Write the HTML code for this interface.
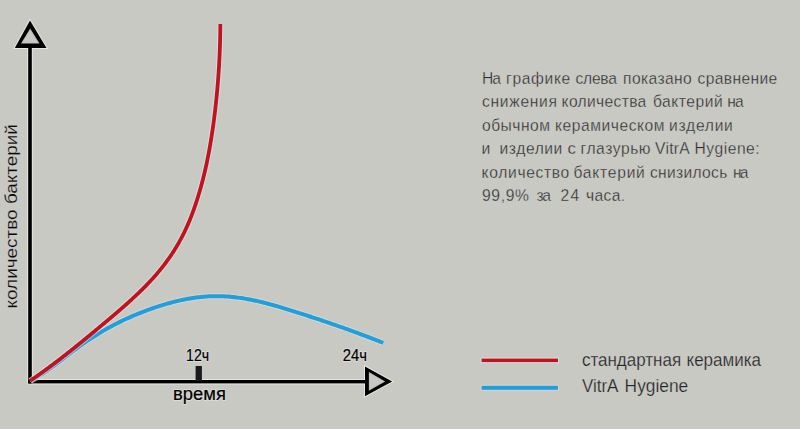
<!DOCTYPE html>
<html><head><meta charset="utf-8">
<style>
html,body{margin:0;padding:0;background:#c9c9c4;width:800px;height:429px;overflow:hidden}
svg{position:absolute;left:0;top:0;display:block}
text{font-family:"Liberation Sans",sans-serif}
</style></head><body>
<svg width="800" height="429" viewBox="0 0 800 429">
<rect width="800" height="429" fill="#c9c9c4"/>
<g fill="none" stroke="#eeeeea" stroke-width="5.6" opacity="0.8">
<path d="M30 46 V383.4 M28.2 381.7 H366"/>
<polygon points="30,20.5 14.8,48 46.5,48" stroke-width="2" fill="#eeeeea"/>
<polygon points="365,366.5 392.2,381.4 365,396.3" stroke-width="2" fill="#eeeeea"/>
</g>
<rect x="28.2" y="46" width="3.6" height="337.5" fill="#000"/>
<rect x="28.2" y="380" width="338" height="3.4" fill="#000"/>
<polygon points="30,20.5 14.8,48 46.5,48" fill="#000"/>
<polygon points="30.2,28.5 21,43.5 39.5,43.5" fill="#eeeeea" opacity="0.8"/>
<polygon points="30.2,30.6 22.7,42.5 37.8,42.5" fill="#c9c9c4"/>
<polygon points="365,366.5 392.2,381.4 365,396.3" fill="#000"/>
<polygon points="368.9,372 385.2,381.4 368.9,390.8" fill="#eeeeea" opacity="0.8"/>
<polygon points="369.9,373.8 383.2,381.4 369.9,389" fill="#c9c9c4"/>
<rect x="195.6" y="366" width="6.3" height="15" fill="#1a1a1a"/>
<path d="M30.30 380.89 L31.91 380.06 L33.52 379.19 L35.13 378.28 L36.75 377.34 L38.36 376.37 L39.97 375.37 L41.58 374.34 L43.19 373.28 L44.80 372.19 L46.41 371.09 L48.03 369.96 L49.64 368.81 L51.25 367.65 L52.86 366.46 L54.47 365.27 L56.08 364.06 L57.69 362.84 L59.31 361.61 L60.92 360.38 L62.53 359.14 L64.14 357.90 L65.75 356.66 L67.36 355.42 L68.97 354.18 L70.59 352.94 L72.20 351.71 L73.81 350.49 L75.42 349.28 L77.03 348.09 L78.64 346.90 L80.25 345.73 L81.87 344.58 L83.48 343.44 L85.09 342.32 L86.70 341.22 L88.31 340.13 L89.92 339.06 L91.53 338.01 L93.15 336.97 L94.76 335.95 L96.37 334.94 L97.98 333.95 L99.59 332.97 L101.20 332.01 L102.81 331.06 L104.43 330.13 L106.04 329.22 L107.65 328.31 L109.26 327.42 L110.87 326.55 L112.48 325.69 L114.09 324.84 L115.71 324.01 L117.32 323.19 L118.93 322.38 L120.54 321.59 L122.15 320.81 L123.76 320.04 L125.37 319.29 L126.98 318.55 L128.60 317.82 L130.21 317.10 L131.82 316.39 L133.43 315.70 L135.04 315.02 L136.65 314.35 L138.26 313.69 L139.88 313.04 L141.49 312.40 L143.10 311.78 L144.71 311.16 L146.32 310.56 L147.93 309.96 L149.54 309.38 L151.16 308.81 L152.77 308.24 L154.38 307.69 L155.99 307.15 L157.60 306.61 L159.21 306.09 L160.82 305.58 L162.44 305.08 L164.05 304.60 L165.66 304.12 L167.27 303.66 L168.88 303.21 L170.49 302.77 L172.10 302.34 L173.72 301.92 L175.33 301.52 L176.94 301.13 L178.55 300.76 L180.16 300.40 L181.77 300.05 L183.38 299.71 L185.00 299.39 L186.61 299.08 L188.22 298.79 L189.83 298.51 L191.44 298.25 L193.05 298.00 L194.66 297.76 L196.28 297.54 L197.89 297.34 L199.50 297.15 L201.11 296.98 L202.72 296.82 L204.33 296.68 L205.94 296.56 L207.56 296.45 L209.17 296.36 L210.78 296.28 L212.39 296.22 L214.00 296.18 L215.61 296.16 L217.22 296.15 L218.84 296.17 L220.45 296.20 L222.06 296.24 L223.67 296.31 L225.28 296.39 L226.89 296.49 L228.50 296.61 L230.12 296.74 L231.73 296.89 L233.34 297.06 L234.95 297.24 L236.56 297.43 L238.17 297.64 L239.78 297.86 L241.40 298.10 L243.01 298.35 L244.62 298.61 L246.23 298.89 L247.84 299.18 L249.45 299.48 L251.06 299.80 L252.68 300.12 L254.29 300.46 L255.90 300.81 L257.51 301.17 L259.12 301.53 L260.73 301.91 L262.34 302.30 L263.96 302.70 L265.57 303.10 L267.18 303.52 L268.79 303.94 L270.40 304.37 L272.01 304.81 L273.62 305.26 L275.24 305.71 L276.85 306.17 L278.46 306.64 L280.07 307.11 L281.68 307.58 L283.29 308.07 L284.90 308.55 L286.52 309.05 L288.13 309.54 L289.74 310.04 L291.35 310.54 L292.96 311.05 L294.57 311.56 L296.18 312.07 L297.79 312.59 L299.41 313.10 L301.02 313.62 L302.63 314.14 L304.24 314.66 L305.85 315.18 L307.46 315.71 L309.07 316.23 L310.69 316.76 L312.30 317.29 L313.91 317.82 L315.52 318.35 L317.13 318.89 L318.74 319.42 L320.35 319.96 L321.97 320.50 L323.58 321.04 L325.19 321.59 L326.80 322.13 L328.41 322.68 L330.02 323.23 L331.63 323.78 L333.25 324.34 L334.86 324.90 L336.47 325.46 L338.08 326.02 L339.69 326.58 L341.30 327.15 L342.91 327.72 L344.53 328.29 L346.14 328.87 L347.75 329.44 L349.36 330.02 L350.97 330.61 L352.58 331.19 L354.19 331.78 L355.81 332.37 L357.42 332.97 L359.03 333.56 L360.64 334.16 L362.25 334.77 L363.86 335.37 L365.47 335.98 L367.09 336.60 L368.70 337.21 L370.31 337.83 L371.92 338.45 L373.53 339.08 L375.14 339.71 L376.75 340.34 L378.37 340.98 L379.98 341.62 L381.59 342.26 L383.20 342.91" fill="none" stroke="#f0d8c4" stroke-width="6.0" stroke-linejoin="round" opacity="0.55"/>
<path d="M30.30 380.89 L31.91 380.06 L33.52 379.19 L35.13 378.28 L36.75 377.34 L38.36 376.37 L39.97 375.37 L41.58 374.34 L43.19 373.28 L44.80 372.19 L46.41 371.09 L48.03 369.96 L49.64 368.81 L51.25 367.65 L52.86 366.46 L54.47 365.27 L56.08 364.06 L57.69 362.84 L59.31 361.61 L60.92 360.38 L62.53 359.14 L64.14 357.90 L65.75 356.66 L67.36 355.42 L68.97 354.18 L70.59 352.94 L72.20 351.71 L73.81 350.49 L75.42 349.28 L77.03 348.09 L78.64 346.90 L80.25 345.73 L81.87 344.58 L83.48 343.44 L85.09 342.32 L86.70 341.22 L88.31 340.13 L89.92 339.06 L91.53 338.01 L93.15 336.97 L94.76 335.95 L96.37 334.94 L97.98 333.95 L99.59 332.97 L101.20 332.01 L102.81 331.06 L104.43 330.13 L106.04 329.22 L107.65 328.31 L109.26 327.42 L110.87 326.55 L112.48 325.69 L114.09 324.84 L115.71 324.01 L117.32 323.19 L118.93 322.38 L120.54 321.59 L122.15 320.81 L123.76 320.04 L125.37 319.29 L126.98 318.55 L128.60 317.82 L130.21 317.10 L131.82 316.39 L133.43 315.70 L135.04 315.02 L136.65 314.35 L138.26 313.69 L139.88 313.04 L141.49 312.40 L143.10 311.78 L144.71 311.16 L146.32 310.56 L147.93 309.96 L149.54 309.38 L151.16 308.81 L152.77 308.24 L154.38 307.69 L155.99 307.15 L157.60 306.61 L159.21 306.09 L160.82 305.58 L162.44 305.08 L164.05 304.60 L165.66 304.12 L167.27 303.66 L168.88 303.21 L170.49 302.77 L172.10 302.34 L173.72 301.92 L175.33 301.52 L176.94 301.13 L178.55 300.76 L180.16 300.40 L181.77 300.05 L183.38 299.71 L185.00 299.39 L186.61 299.08 L188.22 298.79 L189.83 298.51 L191.44 298.25 L193.05 298.00 L194.66 297.76 L196.28 297.54 L197.89 297.34 L199.50 297.15 L201.11 296.98 L202.72 296.82 L204.33 296.68 L205.94 296.56 L207.56 296.45 L209.17 296.36 L210.78 296.28 L212.39 296.22 L214.00 296.18 L215.61 296.16 L217.22 296.15 L218.84 296.17 L220.45 296.20 L222.06 296.24 L223.67 296.31 L225.28 296.39 L226.89 296.49 L228.50 296.61 L230.12 296.74 L231.73 296.89 L233.34 297.06 L234.95 297.24 L236.56 297.43 L238.17 297.64 L239.78 297.86 L241.40 298.10 L243.01 298.35 L244.62 298.61 L246.23 298.89 L247.84 299.18 L249.45 299.48 L251.06 299.80 L252.68 300.12 L254.29 300.46 L255.90 300.81 L257.51 301.17 L259.12 301.53 L260.73 301.91 L262.34 302.30 L263.96 302.70 L265.57 303.10 L267.18 303.52 L268.79 303.94 L270.40 304.37 L272.01 304.81 L273.62 305.26 L275.24 305.71 L276.85 306.17 L278.46 306.64 L280.07 307.11 L281.68 307.58 L283.29 308.07 L284.90 308.55 L286.52 309.05 L288.13 309.54 L289.74 310.04 L291.35 310.54 L292.96 311.05 L294.57 311.56 L296.18 312.07 L297.79 312.59 L299.41 313.10 L301.02 313.62 L302.63 314.14 L304.24 314.66 L305.85 315.18 L307.46 315.71 L309.07 316.23 L310.69 316.76 L312.30 317.29 L313.91 317.82 L315.52 318.35 L317.13 318.89 L318.74 319.42 L320.35 319.96 L321.97 320.50 L323.58 321.04 L325.19 321.59 L326.80 322.13 L328.41 322.68 L330.02 323.23 L331.63 323.78 L333.25 324.34 L334.86 324.90 L336.47 325.46 L338.08 326.02 L339.69 326.58 L341.30 327.15 L342.91 327.72 L344.53 328.29 L346.14 328.87 L347.75 329.44 L349.36 330.02 L350.97 330.61 L352.58 331.19 L354.19 331.78 L355.81 332.37 L357.42 332.97 L359.03 333.56 L360.64 334.16 L362.25 334.77 L363.86 335.37 L365.47 335.98 L367.09 336.60 L368.70 337.21 L370.31 337.83 L371.92 338.45 L373.53 339.08 L375.14 339.71 L376.75 340.34 L378.37 340.98 L379.98 341.62 L381.59 342.26 L383.20 342.91" fill="none" stroke="#1d9fe0" stroke-width="4.0" stroke-linejoin="round"/>
<path d="M30.18 380.80 L32.56 379.17 L34.91 377.54 L37.24 375.91 L39.54 374.28 L41.82 372.65 L44.08 371.02 L46.32 369.40 L48.54 367.77 L50.74 366.14 L52.92 364.51 L55.08 362.88 L57.23 361.25 L59.35 359.62 L61.47 357.99 L63.57 356.36 L65.65 354.73 L67.72 353.10 L69.78 351.47 L71.83 349.84 L73.86 348.22 L75.89 346.59 L77.90 344.96 L79.91 343.33 L81.91 341.70 L83.90 340.07 L85.89 338.44 L87.87 336.81 L89.84 335.18 L91.81 333.55 L93.78 331.92 L95.74 330.29 L97.71 328.66 L99.67 327.04 L101.63 325.41 L103.58 323.78 L105.53 322.15 L107.47 320.52 L109.41 318.89 L111.34 317.26 L113.25 315.63 L115.17 314.00 L117.07 312.37 L118.95 310.74 L120.83 309.11 L122.70 307.48 L124.55 305.86 L126.38 304.23 L128.20 302.60 L130.01 300.97 L131.79 299.34 L133.56 297.71 L135.31 296.08 L137.04 294.45 L138.75 292.82 L140.43 291.19 L142.10 289.56 L143.74 287.93 L145.36 286.31 L146.95 284.68 L148.51 283.05 L150.05 281.42 L151.56 279.79 L153.04 278.16 L154.50 276.53 L155.92 274.90 L157.32 273.27 L158.69 271.64 L160.04 270.01 L161.35 268.38 L162.64 266.75 L163.91 265.13 L165.15 263.50 L166.36 261.87 L167.55 260.24 L168.71 258.61 L169.85 256.98 L170.96 255.35 L172.05 253.72 L173.12 252.09 L174.16 250.46 L175.18 248.83 L176.17 247.20 L177.15 245.57 L178.10 243.95 L179.03 242.32 L179.94 240.69 L180.83 239.06 L181.69 237.43 L182.54 235.80 L183.36 234.17 L184.17 232.54 L184.96 230.91 L185.73 229.28 L186.48 227.65 L187.21 226.02 L187.93 224.39 L188.63 222.77 L189.32 221.14 L189.98 219.51 L190.64 217.88 L191.28 216.25 L191.91 214.62 L192.52 212.99 L193.12 211.36 L193.71 209.73 L194.28 208.10 L194.85 206.47 L195.40 204.84 L195.95 203.21 L196.48 201.59 L197.00 199.96 L197.52 198.33 L198.03 196.70 L198.52 195.07 L199.01 193.44 L199.49 191.81 L199.97 190.18 L200.43 188.55 L200.89 186.92 L201.34 185.29 L201.78 183.66 L202.21 182.03 L202.63 180.41 L203.05 178.78 L203.46 177.15 L203.86 175.52 L204.26 173.89 L204.65 172.26 L205.03 170.63 L205.40 169.00 L205.77 167.37 L206.13 165.74 L206.48 164.11 L206.83 162.48 L207.17 160.85 L207.51 159.23 L207.84 157.60 L208.16 155.97 L208.47 154.34 L208.79 152.71 L209.09 151.08 L209.39 149.45 L209.68 147.82 L209.97 146.19 L210.25 144.56 L210.53 142.93 L210.80 141.30 L211.07 139.67 L211.33 138.05 L211.59 136.42 L211.84 134.79 L212.09 133.16 L212.33 131.53 L212.57 129.90 L212.81 128.27 L213.04 126.64 L213.27 125.01 L213.49 123.38 L213.71 121.75 L213.92 120.12 L214.13 118.49 L214.34 116.87 L214.54 115.24 L214.74 113.61 L214.94 111.98 L215.13 110.35 L215.32 108.72 L215.51 107.09 L215.69 105.46 L215.87 103.83 L216.05 102.20 L216.22 100.57 L216.39 98.94 L216.55 97.32 L216.71 95.69 L216.87 94.06 L217.02 92.43 L217.17 90.80 L217.32 89.17 L217.46 87.54 L217.60 85.91 L217.74 84.28 L217.87 82.65 L218.00 81.02 L218.12 79.39 L218.25 77.76 L218.36 76.14 L218.48 74.51 L218.59 72.88 L218.70 71.25 L218.80 69.62 L218.90 67.99 L219.00 66.36 L219.10 64.73 L219.19 63.10 L219.27 61.47 L219.36 59.84 L219.44 58.21 L219.52 56.58 L219.59 54.96 L219.66 53.33 L219.73 51.70 L219.79 50.07 L219.85 48.44 L219.91 46.81 L219.96 45.18 L220.01 43.55 L220.06 41.92 L220.10 40.29 L220.14 38.66 L220.18 37.03 L220.21 35.40 L220.24 33.78 L220.27 32.15 L220.29 30.52 L220.31 28.89 L220.33 27.26 L220.34 25.63 L220.35 24.00" fill="none" stroke="#d8f0ec" stroke-width="5.8" stroke-linejoin="round" opacity="0.6"/>
<path d="M30.18 380.80 L32.56 379.17 L34.91 377.54 L37.24 375.91 L39.54 374.28 L41.82 372.65 L44.08 371.02 L46.32 369.40 L48.54 367.77 L50.74 366.14 L52.92 364.51 L55.08 362.88 L57.23 361.25 L59.35 359.62 L61.47 357.99 L63.57 356.36 L65.65 354.73 L67.72 353.10 L69.78 351.47 L71.83 349.84 L73.86 348.22 L75.89 346.59 L77.90 344.96 L79.91 343.33 L81.91 341.70 L83.90 340.07 L85.89 338.44 L87.87 336.81 L89.84 335.18 L91.81 333.55 L93.78 331.92 L95.74 330.29 L97.71 328.66 L99.67 327.04 L101.63 325.41 L103.58 323.78 L105.53 322.15 L107.47 320.52 L109.41 318.89 L111.34 317.26 L113.25 315.63 L115.17 314.00 L117.07 312.37 L118.95 310.74 L120.83 309.11 L122.70 307.48 L124.55 305.86 L126.38 304.23 L128.20 302.60 L130.01 300.97 L131.79 299.34 L133.56 297.71 L135.31 296.08 L137.04 294.45 L138.75 292.82 L140.43 291.19 L142.10 289.56 L143.74 287.93 L145.36 286.31 L146.95 284.68 L148.51 283.05 L150.05 281.42 L151.56 279.79 L153.04 278.16 L154.50 276.53 L155.92 274.90 L157.32 273.27 L158.69 271.64 L160.04 270.01 L161.35 268.38 L162.64 266.75 L163.91 265.13 L165.15 263.50 L166.36 261.87 L167.55 260.24 L168.71 258.61 L169.85 256.98 L170.96 255.35 L172.05 253.72 L173.12 252.09 L174.16 250.46 L175.18 248.83 L176.17 247.20 L177.15 245.57 L178.10 243.95 L179.03 242.32 L179.94 240.69 L180.83 239.06 L181.69 237.43 L182.54 235.80 L183.36 234.17 L184.17 232.54 L184.96 230.91 L185.73 229.28 L186.48 227.65 L187.21 226.02 L187.93 224.39 L188.63 222.77 L189.32 221.14 L189.98 219.51 L190.64 217.88 L191.28 216.25 L191.91 214.62 L192.52 212.99 L193.12 211.36 L193.71 209.73 L194.28 208.10 L194.85 206.47 L195.40 204.84 L195.95 203.21 L196.48 201.59 L197.00 199.96 L197.52 198.33 L198.03 196.70 L198.52 195.07 L199.01 193.44 L199.49 191.81 L199.97 190.18 L200.43 188.55 L200.89 186.92 L201.34 185.29 L201.78 183.66 L202.21 182.03 L202.63 180.41 L203.05 178.78 L203.46 177.15 L203.86 175.52 L204.26 173.89 L204.65 172.26 L205.03 170.63 L205.40 169.00 L205.77 167.37 L206.13 165.74 L206.48 164.11 L206.83 162.48 L207.17 160.85 L207.51 159.23 L207.84 157.60 L208.16 155.97 L208.47 154.34 L208.79 152.71 L209.09 151.08 L209.39 149.45 L209.68 147.82 L209.97 146.19 L210.25 144.56 L210.53 142.93 L210.80 141.30 L211.07 139.67 L211.33 138.05 L211.59 136.42 L211.84 134.79 L212.09 133.16 L212.33 131.53 L212.57 129.90 L212.81 128.27 L213.04 126.64 L213.27 125.01 L213.49 123.38 L213.71 121.75 L213.92 120.12 L214.13 118.49 L214.34 116.87 L214.54 115.24 L214.74 113.61 L214.94 111.98 L215.13 110.35 L215.32 108.72 L215.51 107.09 L215.69 105.46 L215.87 103.83 L216.05 102.20 L216.22 100.57 L216.39 98.94 L216.55 97.32 L216.71 95.69 L216.87 94.06 L217.02 92.43 L217.17 90.80 L217.32 89.17 L217.46 87.54 L217.60 85.91 L217.74 84.28 L217.87 82.65 L218.00 81.02 L218.12 79.39 L218.25 77.76 L218.36 76.14 L218.48 74.51 L218.59 72.88 L218.70 71.25 L218.80 69.62 L218.90 67.99 L219.00 66.36 L219.10 64.73 L219.19 63.10 L219.27 61.47 L219.36 59.84 L219.44 58.21 L219.52 56.58 L219.59 54.96 L219.66 53.33 L219.73 51.70 L219.79 50.07 L219.85 48.44 L219.91 46.81 L219.96 45.18 L220.01 43.55 L220.06 41.92 L220.10 40.29 L220.14 38.66 L220.18 37.03 L220.21 35.40 L220.24 33.78 L220.27 32.15 L220.29 30.52 L220.31 28.89 L220.33 27.26 L220.34 25.63 L220.35 24.00" fill="none" stroke="#c2111f" stroke-width="3.8" stroke-linejoin="round"/>
<text transform="translate(482.07,84) scale(0.93,1)" x="0" y="0" font-size="16.8" fill="#2c2c2c" textLength="20.23" lengthAdjust="spacing" stroke="#c9c9c4" stroke-width="0.32">На</text>
<text transform="translate(506.07,84) scale(0.93,1)" x="0" y="0" font-size="16.8" fill="#2c2c2c" textLength="69.07" lengthAdjust="spacing" stroke="#c9c9c4" stroke-width="0.32">графике</text>
<text transform="translate(575.50,84) scale(0.93,1)" x="0" y="0" font-size="16.8" fill="#2c2c2c" textLength="44.49" lengthAdjust="spacing" stroke="#c9c9c4" stroke-width="0.32">слева</text>
<text transform="translate(623.07,84) scale(0.93,1)" x="0" y="0" font-size="16.8" fill="#2c2c2c" textLength="73.91" lengthAdjust="spacing" stroke="#c9c9c4" stroke-width="0.32">показано</text>
<text transform="translate(697.50,84) scale(0.93,1)" x="0" y="0" font-size="16.8" fill="#2c2c2c" textLength="85.82" lengthAdjust="spacing" stroke="#c9c9c4" stroke-width="0.32">сравнение</text>
<text transform="translate(482.00,107.4) scale(0.93,1)" x="0" y="0" font-size="16.8" fill="#2c2c2c" textLength="80.66" lengthAdjust="spacing" stroke="#c9c9c4" stroke-width="0.32">снижения</text>
<text transform="translate(561.57,107.4) scale(0.93,1)" x="0" y="0" font-size="16.8" fill="#2c2c2c" textLength="91.09" lengthAdjust="spacing" stroke="#c9c9c4" stroke-width="0.32">количества</text>
<text transform="translate(652.90,107.4) scale(0.93,1)" x="0" y="0" font-size="16.8" fill="#2c2c2c" textLength="75.21" lengthAdjust="spacing" stroke="#c9c9c4" stroke-width="0.32">бактерий</text>
<text transform="translate(727.17,107.4) scale(0.93,1)" x="0" y="0" font-size="16.8" fill="#2c2c2c" textLength="17.86" lengthAdjust="spacing" stroke="#c9c9c4" stroke-width="0.32">на</text>
<text transform="translate(482.00,130.7) scale(0.93,1)" x="0" y="0" font-size="16.8" fill="#2c2c2c" textLength="73.12" lengthAdjust="spacing" stroke="#c9c9c4" stroke-width="0.32">обычном</text>
<text transform="translate(555.07,130.7) scale(0.93,1)" x="0" y="0" font-size="16.8" fill="#2c2c2c" textLength="117.67" lengthAdjust="spacing" stroke="#c9c9c4" stroke-width="0.32">керамическом</text>
<text transform="translate(669.07,130.7) scale(0.93,1)" x="0" y="0" font-size="16.8" fill="#2c2c2c" textLength="68.58" lengthAdjust="spacing" stroke="#c9c9c4" stroke-width="0.32">изделии</text>
<text x="481.56" y="154" font-size="16.8" fill="#2c2c2c" textLength="8.79" lengthAdjust="spacingAndGlyphs" stroke="#c9c9c4" stroke-width="0.32">и</text>
<text transform="translate(499.57,154) scale(0.93,1)" x="0" y="0" font-size="16.8" fill="#2c2c2c" textLength="67.50" lengthAdjust="spacing" stroke="#c9c9c4" stroke-width="0.32">изделии</text>
<text x="567.50" y="154" font-size="16.8" fill="#2c2c2c" textLength="8.39" lengthAdjust="spacingAndGlyphs" stroke="#c9c9c4" stroke-width="0.32">с</text>
<text transform="translate(580.57,154) scale(0.93,1)" x="0" y="0" font-size="16.8" fill="#2c2c2c" textLength="75.24" lengthAdjust="spacing" stroke="#c9c9c4" stroke-width="0.32">глазурью</text>
<text transform="translate(655.00,154) scale(0.93,1)" x="0" y="0" font-size="16.8" fill="#2c2c2c" textLength="37.37" lengthAdjust="spacing" stroke="#c9c9c4" stroke-width="0.32">VitrA</text>
<text transform="translate(694.57,154) scale(0.93,1)" x="0" y="0" font-size="16.8" fill="#2c2c2c" textLength="69.94" lengthAdjust="spacing" stroke="#c9c9c4" stroke-width="0.32">Hygiene:</text>
<text transform="translate(481.57,177.5) scale(0.93,1)" x="0" y="0" font-size="16.8" fill="#2c2c2c" textLength="94.34" lengthAdjust="spacing" stroke="#c9c9c4" stroke-width="0.32">количество</text>
<text transform="translate(573.50,177.5) scale(0.93,1)" x="0" y="0" font-size="16.8" fill="#2c2c2c" textLength="76.72" lengthAdjust="spacing" stroke="#c9c9c4" stroke-width="0.32">бактерий</text>
<text transform="translate(650.00,177.5) scale(0.93,1)" x="0" y="0" font-size="16.8" fill="#2c2c2c" textLength="83.18" lengthAdjust="spacing" stroke="#c9c9c4" stroke-width="0.32">снизилось</text>
<text transform="translate(733.07,177.5) scale(0.93,1)" x="0" y="0" font-size="16.8" fill="#2c2c2c" textLength="16.46" lengthAdjust="spacing" stroke="#c9c9c4" stroke-width="0.32">на</text>
<text transform="translate(482.00,201) scale(0.93,1)" x="0" y="0" font-size="16.8" fill="#2c2c2c" textLength="50.46" lengthAdjust="spacing" stroke="#c9c9c4" stroke-width="0.32">99,9%</text>
<text transform="translate(536.50,201) scale(0.93,1)" x="0" y="0" font-size="16.8" fill="#2c2c2c" textLength="15.46" lengthAdjust="spacing" stroke="#c9c9c4" stroke-width="0.32">за</text>
<text transform="translate(560.50,201) scale(0.93,1)" x="0" y="0" font-size="16.8" fill="#2c2c2c" textLength="20.23" lengthAdjust="spacing" stroke="#c9c9c4" stroke-width="0.32">24</text>
<text transform="translate(586.07,201) scale(0.93,1)" x="0" y="0" font-size="16.8" fill="#2c2c2c" textLength="41.98" lengthAdjust="spacing" stroke="#c9c9c4" stroke-width="0.32">часа.</text>
<text x="581.90" y="365.7" font-size="17.6" fill="#242424" textLength="99.21" lengthAdjust="spacingAndGlyphs" stroke="#c9c9c4" stroke-width="0.25">стандартная</text>
<text x="686.53" y="365.7" font-size="17.6" fill="#242424" textLength="74.51" lengthAdjust="spacingAndGlyphs" stroke="#c9c9c4" stroke-width="0.25">керамика</text>
<text x="581.90" y="391.8" font-size="17.6" fill="#242424" textLength="36.59" lengthAdjust="spacingAndGlyphs" stroke="#c9c9c4" stroke-width="0.25">VitrA</text>
<text x="624.61" y="391.8" font-size="17.6" fill="#242424" textLength="63.66" lengthAdjust="spacingAndGlyphs" stroke="#c9c9c4" stroke-width="0.25">Hygiene</text>
<text x="186.09" y="360.7" font-size="15.6" fill="none" stroke="#eeeeea" stroke-width="2.0" stroke-linejoin="round" opacity="0.5" textLength="23.12" lengthAdjust="spacingAndGlyphs">12ч</text><text x="186.09" y="360.7" font-size="15.6" fill="#000000" textLength="23.12" lengthAdjust="spacingAndGlyphs" stroke="#000000" stroke-width="0.22">12ч</text>
<text x="342.80" y="360.7" font-size="15.6" fill="none" stroke="#eeeeea" stroke-width="2.0" stroke-linejoin="round" opacity="0.5" textLength="24.22" lengthAdjust="spacingAndGlyphs">24ч</text><text x="342.80" y="360.7" font-size="15.6" fill="#000000" textLength="24.22" lengthAdjust="spacingAndGlyphs" stroke="#000000" stroke-width="0.22">24ч</text>
<text x="173.06" y="400.3" font-size="17.6" fill="none" stroke="#eeeeea" stroke-width="2.0" stroke-linejoin="round" opacity="0.5" textLength="52.80" lengthAdjust="spacingAndGlyphs">время</text><text x="173.06" y="400.3" font-size="17.6" fill="#000000" textLength="52.80" lengthAdjust="spacingAndGlyphs" stroke="#000000" stroke-width="0.22">время</text>
<g transform="translate(17.3,320.0) rotate(-90)">
<text x="11.49" y="0" font-size="17.0" fill="#080808" textLength="99.12" lengthAdjust="spacingAndGlyphs" stroke="#c9c9c4" stroke-width="0.2">количество</text>
<text x="115.99" y="0" font-size="17.0" fill="#080808" textLength="79.76" lengthAdjust="spacingAndGlyphs" stroke="#c9c9c4" stroke-width="0.2">бактерий</text>
</g>
<rect x="480.6" y="357.6" width="78.4" height="5.5" fill="#d8f0ec" opacity="0.6"/>
<rect x="481.6" y="358.6" width="76.4" height="3.5" fill="#c2111f"/>
<rect x="480.6" y="384.8" width="78.4" height="6" fill="#f0d8c4" opacity="0.55"/>
<rect x="481.6" y="385.8" width="76.4" height="4" fill="#1d9fe0"/>
</svg>
</body></html>
